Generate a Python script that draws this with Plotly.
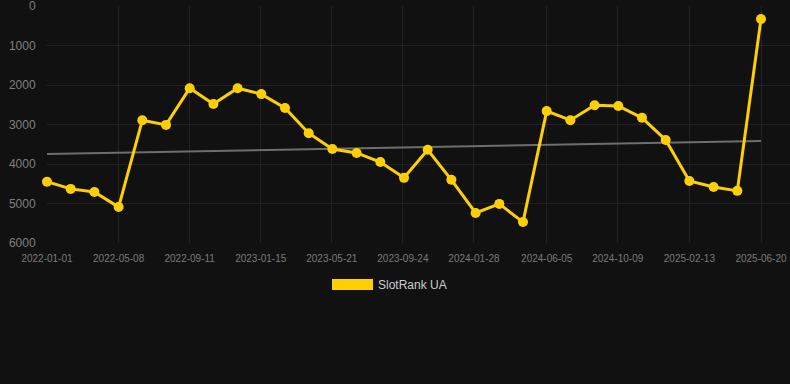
import pandas as pd
import plotly.graph_objects as go

series_name = "SlotRank UA"
dates = ["2022-01-01", "2022-02-12", "2022-03-26", "2022-05-08", "2022-06-19", "2022-07-31",
         "2022-09-11", "2022-10-23", "2022-12-05", "2023-01-16", "2023-02-27", "2023-04-10",
         "2023-05-22", "2023-07-04", "2023-08-15", "2023-09-26", "2023-11-07", "2023-12-19",
         "2024-01-31", "2024-03-13", "2024-04-24", "2024-06-05", "2024-07-17", "2024-08-29",
         "2024-10-10", "2024-11-21", "2025-01-02", "2025-02-13", "2025-03-28", "2025-05-09",
         "2025-06-20"]
ranks = [4450, 4630, 4710, 5090, 2890, 3010, 2080, 2480, 2080, 2230, 2580, 3220,
         3620, 3720, 3950, 4350, 3640, 4400, 5240, 5010, 5470, 2660, 2890, 2510,
         2530, 2830, 3390, 4430, 4580, 4680, 330]
trend_dates = ["2022-01-01", "2025-06-20"]
trend_values = [3745, 3415]
x_tick_labels = ["2022-01-01", "2022-05-08", "2022-09-11", "2023-01-15", "2023-05-21",
                 "2023-09-24", "2024-01-28", "2024-06-05", "2024-10-09", "2025-02-13",
                 "2025-06-20"]
y_tick_vals = [0, 1000, 2000, 3000, 4000, 5000, 6000]

W, H = 790, 384
ML, MR, MT, MB = 47, 0, 6, 141

d = pd.to_datetime(dates)
span = float((d[-1] - d[0]).days)

fig = go.Figure()
fig.add_trace(go.Scatter(x=trend_dates, y=trend_values, mode="lines",
                         line=dict(color="#6e6e6e", width=2), showlegend=False, hoverinfo="skip"))
fig.add_trace(go.Scatter(x=dates, y=ranks, mode="lines+markers", name=series_name,
                         line=dict(color="#ffd000", width=3), cliponaxis=False,
                         marker=dict(color="#ffd000", size=10), showlegend=False))

plot_w = W - ML - MR
last_px = 761 - ML
x_end = d[0] + pd.Timedelta(days=span * plot_w / last_px)

fig.update_xaxes(range=[d[0], x_end], tickvals=pd.to_datetime(x_tick_labels), ticktext=x_tick_labels,
                 showgrid=True, gridcolor="#222222", gridwidth=1, zeroline=False, showline=False,
                 ticks="outside", ticklen=6, tickcolor="rgba(0,0,0,0)", ticklabeloverflow="allow",
                 tickfont=dict(family="Arial, Liberation Sans, sans-serif", size=10, color="#7a7a7a"))
fig.update_yaxes(range=[6000, -1], tickvals=y_tick_vals, showgrid=True, gridcolor="#222222",
                 gridwidth=1, zeroline=False, showline=False, ticklabeloverflow="allow",
                 ticks="outside", ticklen=8, tickcolor="rgba(0,0,0,0)",
                 tickfont=dict(family="Arial, Liberation Sans, sans-serif", size=12, color="#7f7f7f"))

ph = H - MT - MB
def px_x(px):
    return (px - ML) / plot_w
def px_y(py):
    return (H - MB - py) / ph

fig.add_shape(type="rect", xref="paper", yref="paper",
              x0=px_x(332), x1=px_x(373), y0=px_y(290), y1=px_y(279),
              fillcolor="#ffd000", line=dict(width=0))
fig.add_annotation(xref="paper", yref="paper", x=px_x(376), y=px_y(284.5), xanchor="left",
                   yanchor="middle", showarrow=False, text=series_name,
                   font=dict(family="Arial, Liberation Sans, sans-serif", size=12, color="#cccccc"))

fig.update_layout(width=W, height=H, margin=dict(l=ML, r=MR, t=MT, b=MB),
                  paper_bgcolor="#111111", plot_bgcolor="#111111", showlegend=False)
fig.write_html("out.html", config={"displayModeBar": False},
               post_script="document.body.style.margin='0';document.body.style.background='#111111';")
